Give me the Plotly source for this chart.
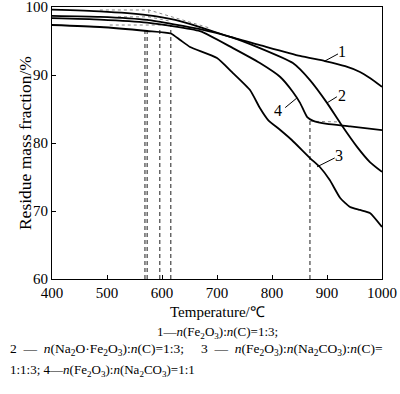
import plotly.graph_objects as go

# ---- data ----
c1_T = [400, 487, 573, 624, 669, 724, 778, 851, 896, 933, 960, 978, 1000]
c1_M = [99.6, 99.35, 98.8, 98.1, 97.05, 95.6, 94.4, 92.8, 92.05, 91.3, 90.45, 89.55, 88.25]

c2_T = [400, 487, 573, 669, 724, 778, 838, 869, 900, 924, 955, 978, 1000]
c2_M = [98.7, 98.55, 98.1, 96.75, 95.6, 93.95, 91.75, 89.25, 85.9, 82.95, 79.4, 77.2, 75.75]

c3_T = [400, 487, 573, 616, 633, 651, 700, 729, 760, 778, 793, 815, 836, 869, 887, 905, 924, 942, 960, 978, 1000]
c3_M = [97.35, 97.06, 96.47, 96.1, 95.15, 94.12, 92.5, 90.29, 87.79, 85.15, 83.38, 81.91, 80.44,
        77.79, 76.47, 74.56, 71.91, 70.59, 70.15, 69.71, 67.65]

c4_T = [400, 487, 573, 669, 729, 778, 815, 838, 851, 864, 875, 900, 942, 1000]
c4_M = [98.35, 98.15, 97.7, 96.45, 93.95, 91.75, 89.7, 87.5, 85.9, 83.8, 83.25, 82.8, 82.45, 81.9]

onset_T = [569, 573, 596, 616, 869]
onset_top = [96.9, 96.9, 97.05, 97.35, 83.2]

labels = ["1", "2", "3", "4"]
label_T = [928, 928, 921, 811]
label_M = [93.4, 87.0, 78.1, 84.8]
leader_T0 = [896, 900, 882, 824]
leader_M0 = [92.05, 85.9, 76.5, 85.2]
leader_T1 = [920, 918, 914, 845]
leader_M1 = [93.1, 86.8, 77.8, 86.6]

x_ticks = [400, 500, 600, 700, 800, 900, 1000]
y_ticks = [60, 70, 80, 90, 100]

FONT = "Liberation Serif, Times New Roman, serif"
NB = "\u00a0"

fig = go.Figure()

# dotted tangent constructions
dot = dict(color="#888", width=1, dash="dot")
fig.add_trace(go.Scatter(x=[487, 576, 687], y=[99.56, 99.56, 96.9], mode="lines", line=dot, hoverinfo="skip"))
fig.add_trace(go.Scatter(x=[576, 576], y=[99.56, 98.5], mode="lines", line=dot, hoverinfo="skip"))
fig.add_trace(go.Scatter(x=[520, 576, 616], y=[98.55, 98.55, 97.9], mode="lines", line=dot, hoverinfo="skip"))
fig.add_trace(go.Scatter(x=[505, 616], y=[97.35, 97.35], mode="lines", line=dot, hoverinfo="skip"))
fig.add_trace(go.Scatter(x=[869, 920], y=[83.2, 83.1], mode="lines", line=dot, hoverinfo="skip"))

# dashed onset lines
for t, top in zip(onset_T, onset_top):
    fig.add_trace(go.Scatter(x=[t, t], y=[60, top], mode="lines",
                             line=dict(color="#333", width=1.1, dash="4px,3px"), hoverinfo="skip"))

# curves
for T, M in [(c1_T, c1_M), (c2_T, c2_M), (c3_T, c3_M), (c4_T, c4_M)]:
    fig.add_trace(go.Scatter(x=T, y=M, mode="lines",
                             line=dict(color="black", width=1.8, shape="spline", smoothing=0.5),
                             hoverinfo="skip"))

# leaders
for a, b, c, d in zip(leader_T0, leader_M0, leader_T1, leader_M1):
    fig.add_trace(go.Scatter(x=[a, c], y=[b, d], mode="lines", line=dict(color="black", width=1), hoverinfo="skip"))

annotations = []
for lab, t, m in zip(labels, label_T, label_M):
    annotations.append(dict(x=t, y=m, text=lab, showarrow=False, xref="x", yref="y",
                            font=dict(family=FONT, size=16, color="black")))

annotations.append(dict(xref="paper", yref="paper", x=-0.118, y=0.5, text="Residue mass fraction/%",
                        textangle=-90, showarrow=False, font=dict(family=FONT, size=17.5, color="black")))

cap = dict(family=FONT, size=13, color="black")
annotations.append(dict(xref="paper", yref="paper", x=0.5, y=-0.121, yanchor="middle", text="Temperature/℃",
                        showarrow=False, font=dict(family=FONT, size=15, color="black")))
annotations.append(dict(xref="paper", yref="paper", x=0.5, y=-0.195, yanchor="middle",
                        text="1—<i>n</i>(Fe<sub>2</sub>O<sub>3</sub>):<i>n</i>(C)=1:3;",
                        showarrow=False, font=cap))
line3 = ("2" + NB * 2 + "—" + NB * 2 + "<i>n</i>(Na<sub>2</sub>O·Fe<sub>2</sub>O<sub>3</sub>):<i>n</i>(C)=1:3;"
         + NB * 5 + "3" + NB * 2 + "—" + NB * 2
         + "<i>n</i>(Fe<sub>2</sub>O<sub>3</sub>):<i>n</i>(Na<sub>2</sub>CO<sub>3</sub>):<i>n</i>(C)=")
annotations.append(dict(xref="paper", yref="paper", x=-0.133, xanchor="left", y=-0.261, yanchor="middle",
                        text=line3, showarrow=False, font=dict(family=FONT, size=13.5, color="black")))
annotations.append(dict(xref="paper", yref="paper", x=-0.133, xanchor="left", y=-0.335, yanchor="middle",
                        text="1:1:3; 4—<i>n</i>(Fe<sub>2</sub>O<sub>3</sub>):<i>n</i>(Na<sub>2</sub>CO<sub>3</sub>)=1:1",
                        showarrow=False, font=cap))

fig.update_layout(
    width=400, height=394,
    margin=dict(l=52, r=18, t=7, b=115, autoexpand=False),
    paper_bgcolor="white", plot_bgcolor="white",
    showlegend=False,
    annotations=annotations,
    font=dict(family=FONT, size=15, color="black"),
)
fig.update_xaxes(range=[400, 1000], tickvals=x_ticks, ticks="inside", ticklen=4, tickcolor="black",
                 showline=True, linecolor="black", linewidth=1, mirror=True, showgrid=False, zeroline=False,
                 automargin=False, ticklabeloverflow="allow",
                 tickfont=dict(family=FONT, size=15, color="black"))
fig.update_yaxes(range=[60, 100], tickvals=y_ticks, ticks="inside", ticklen=4, tickcolor="black",
                 showline=True, linecolor="black", linewidth=1, mirror=True, showgrid=False, zeroline=False,
                 automargin=False, ticklabeloverflow="allow",
                 tickfont=dict(family=FONT, size=15, color="black"))

fig.write_html("out.html", config={"displayModeBar": False},
               post_script="document.body.style.margin='0';document.body.style.padding='0';"
                           "document.body.style.overflow='hidden';")
